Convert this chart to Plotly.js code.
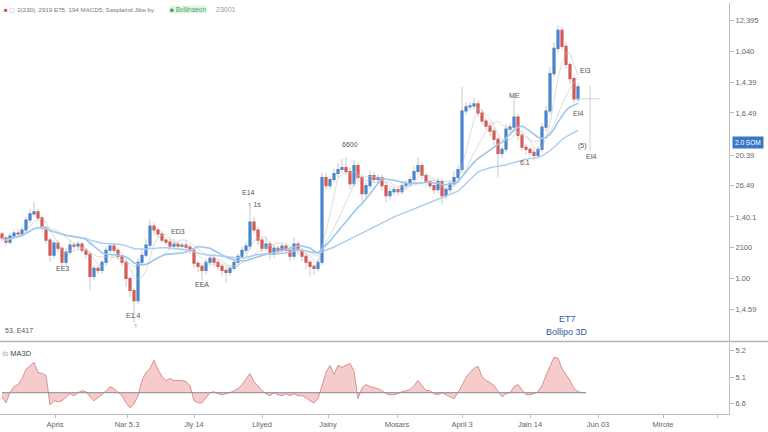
<!DOCTYPE html>
<html><head><meta charset="utf-8">
<script src="https://cdn.plot.ly/plotly-3.0.1.min.js"></script>
<style>html,body{margin:0;padding:0;background:#fff}#chart{width:768px;height:432px}</style>
</head><body><div id="chart"></div>
<script>
// ---- data ----
const firstOpen = 31.8;
const closes = [
 30.6,29.4,31.2,32.1,31.8,33.0,36.0,37.8,38.4,36.6,
 33.6,30.0,25.5,29.1,27.6,23.4,26.4,28.5,28.2,28.8,
 27.0,25.8,19.2,21.6,21.0,23.4,27.0,28.2,27.0,25.2,
 23.4,18.6,15.0,12.0,23.4,25.5,28.5,34.2,33.0,31.8,
 30.0,29.4,28.2,28.8,28.2,28.5,27.9,27.0,23.1,22.2,
 21.0,23.4,24.6,23.4,22.2,21.0,20.4,21.6,23.4,25.2,
 27.0,28.2,35.4,33.0,30.0,27.6,28.8,25.8,27.6,27.0,
 28.2,27.0,25.2,28.8,27.0,25.2,23.4,22.2,21.6,23.4,
 48.6,46.2,48.0,49.8,51.0,51.6,50.4,46.8,52.2,48.6,
 43.8,46.2,49.2,48.0,48.6,46.2,43.2,44.4,45.0,44.4,
 46.2,46.8,48.0,50.4,52.2,49.2,47.4,46.2,45.0,47.4,
 43.2,45.0,46.8,48.6,51.0,68.4,69.6,69.9,70.5,67.8,
 65.4,63.9,62.4,60.0,55.8,57.0,63.0,63.6,66.6,61.2,
 57.6,57.0,56.1,55.2,57.0,63.6,68.4,79.5,87.0,92.4,
 87.6,82.2,78.0,72.0,75.6];
const wickUp = [
 0.8,0.6,1.0,0.8,1.2,0.9,1.0,1.5,3.0,1.0,
 0.8,0.6,1.0,0.8,0.9,0.6,1.2,1.5,0.8,1.0,
 0.8,0.6,0.9,0.8,1.0,0.7,1.2,0.9,1.0,0.8,
 0.6,0.8,0.7,0.9,1.2,1.5,1.8,2.0,1.0,0.8,
 0.9,0.8,1.0,1.5,0.8,0.9,1.2,0.8,0.7,0.8,
 0.9,1.0,0.8,0.9,0.7,0.8,1.0,0.9,0.8,1.0,
 1.2,1.0,5.1,1.5,1.0,0.8,2.0,0.9,1.0,0.8,
 1.0,0.8,0.9,2.0,1.0,0.8,0.9,0.7,0.8,1.0,
 1.5,1.2,1.0,1.5,2.0,2.5,3.0,1.2,1.8,1.0,
 0.8,1.0,1.5,1.0,0.9,1.0,0.8,1.2,1.0,0.9,
 1.0,1.2,1.0,1.5,2.5,1.0,0.9,1.0,0.8,1.2,
 0.8,1.0,1.2,2.0,1.5,7.2,1.5,1.2,1.8,1.0,
 1.0,0.9,1.2,1.0,0.8,1.0,1.5,1.2,6.3,1.0,
 0.9,1.0,0.8,0.9,1.0,1.2,1.5,2.0,1.8,1.5,
 1.0,1.2,1.0,0.9,1.2];
const wickDn = [
 1.0,1.2,0.8,0.9,1.0,0.8,0.9,1.0,0.8,0.9,
 1.0,1.2,2.0,1.0,1.2,1.5,1.0,0.8,0.9,1.0,
 1.0,1.2,4.0,1.0,1.2,1.0,0.8,0.9,1.0,1.2,
 1.0,2.5,2.0,6.6,1.0,0.9,0.8,1.0,1.2,1.0,
 0.9,1.0,1.2,0.8,1.0,0.9,1.0,1.2,1.5,1.8,
 3.0,1.2,1.0,1.5,1.2,1.8,3.0,1.0,0.9,1.0,
 0.8,1.0,1.2,1.0,1.5,1.2,1.0,1.5,1.0,1.2,
 1.0,1.2,1.5,1.0,1.2,1.5,2.0,3.0,2.0,1.0,
 0.8,1.2,1.0,0.9,1.0,1.2,1.0,1.5,1.0,1.2,
 3.0,1.2,1.0,1.0,1.2,1.5,2.0,1.2,1.0,1.2,
 1.0,1.2,1.0,0.9,1.0,1.2,1.5,1.0,1.2,1.0,
 2.7,1.2,1.0,0.9,1.0,1.0,1.2,1.0,1.0,1.2,
 1.0,1.2,1.5,1.8,7.0,1.2,1.0,1.0,1.2,1.5,
 1.2,1.5,1.2,1.5,1.0,1.0,1.2,1.0,1.0,1.2,
 1.0,1.2,1.5,1.2,1.0];
const macdHist = [
 -0.4,-1.0,0,0.6,0.8,1.4,2.3,2.7,3.0,2.0,
 1.9,1.7,-1.2,-0.8,-0.9,-0.8,-0.4,-0.1,-0.3,0,
 0.2,0.1,-0.4,-0.8,-0.5,-0.2,0.2,0.6,0.4,0,
 -0.3,-1.0,-1.5,-1.1,-0.3,1.2,2.0,2.4,3.2,2.3,
 1.6,1.2,1.4,1.2,1.2,1.2,1.1,0.7,-0.8,-1.0,
 -1.0,-0.5,0,0.1,-0.1,-0.2,-0.1,0,0.2,0.4,
 0.8,1.4,1.9,1.1,0.6,0.2,-0.1,-0.3,0,-0.2,
 -0.3,-0.1,-0.3,-0.1,-0.3,-0.3,-0.5,-0.8,-1.0,-0.6,
 0.7,2.0,2.7,1.8,2.7,2.5,2.7,2.9,2.1,-0.6,
 0.5,0.8,0.6,0.5,0.4,0.2,-0.1,-0.2,-0.2,-0.1,
 0.1,0.2,0.3,0.7,1.2,0.7,0.2,0.2,-0.1,-0.2,
 0,-0.2,-0.4,-0.6,0,0.7,1.5,2.0,2.4,2.6,
 1.6,1.2,1.0,0.7,0.2,-0.4,-0.1,0,0.6,0.8,
 0.3,-0.2,-0.2,-0.1,0.1,0.7,1.7,2.7,3.5,3.4,
 2.4,1.8,1.2,0.4,0.1,0,0];
const xTickVals = [13.25,31.25,48,65,81.5,98.75,115,132,149,165.25,178.75];
const xTickText = ["Apris","Nar 5.3","Jly 14","Lllyed","Jainy","Mosars","April 3","Jain 14","Jun 03","Mirote",""];
const yTickVals = [95.4,86.1,76.8,67.8,55.2,46.2,36.9,27.9,18.6,9.3];
const yTickText = ["12,395","1,040","1,4.39","1,6.49","20.39","26.49","1,40.1","2100","1.00","1,4.59"];
const y2TickVals = [4.2,1.5,-1.1];
const y2TickText = ["5.2","5.1","6.6"];
const maPeriods = [5, 10, 16, 40];

// ---- derived ----
const idx = closes.map((_, i) => i);
const opens = [firstOpen].concat(closes.slice(0, -1));
const bodyHi = closes.map((c, i) => Math.max(c, opens[i]));
const bodyLo = closes.map((c, i) => Math.min(c, opens[i]));
const highs = bodyHi.map((v, i) => v + wickUp[i]);
const lows = bodyLo.map((v, i) => v - wickDn[i]);
function sma(arr, n) {
  return arr.map((_, i) => {
    const s = Math.max(0, i - n + 1); let sum = 0;
    for (let k = s; k <= i; k++) sum += arr[k];
    return sum / (i - s + 1);
  });
}
const histX = macdHist.map((_, i) => i);

const BLUE = '#4a86cf', RED = '#d85a55';
const maStyles = [
  {color: 'rgba(190,190,190,0.7)', width: 0.8},
  {color: 'rgba(200,200,200,0.8)', width: 0.8},
  {color: '#9cc6ea', width: 1.6},
  {color: '#a8cdee', width: 1.4}
];
const traces = [];
maPeriods.forEach((p, k) => {
  traces.push({type: 'scatter', mode: 'lines', x: idx, y: sma(closes, p),
    line: maStyles[k], hoverinfo: 'skip', showlegend: false, xaxis: 'x', yaxis: 'y'});
});
traces.push({type: 'candlestick', x: idx, open: opens, high: highs, low: lows, close: closes,
  increasing: {line: {color: '#c9c9c9', width: 1}, fillcolor: '#c9c9c9'},
  decreasing: {line: {color: '#c9c9c9', width: 1}, fillcolor: '#c9c9c9'},
  whiskerwidth: 0, hoverinfo: 'skip', showlegend: false, xaxis: 'x', yaxis: 'y'});
traces.push({type: 'candlestick', x: idx, open: opens, high: bodyHi, low: bodyLo, close: closes,
  increasing: {line: {color: BLUE, width: 1.1}, fillcolor: BLUE},
  decreasing: {line: {color: RED, width: 1.1}, fillcolor: RED},
  whiskerwidth: 0, hoverinfo: 'skip', showlegend: false, xaxis: 'x', yaxis: 'y'});
traces.push({type: 'scatter', mode: 'lines', x: histX, y: macdHist, fill: 'tozeroy',
  fillcolor: 'rgba(232,140,140,0.45)', line: {color: 'rgba(205,120,120,0.85)', width: 0.9},
  hoverinfo: 'skip', showlegend: false, xaxis: 'x', yaxis: 'y2'});
traces.push({type: 'scatter', mode: 'lines', x: [histX[0], histX[histX.length - 1]], y: [0, 0],
  line: {color: '#8a8a8a', width: 1}, hoverinfo: 'skip', showlegend: false, xaxis: 'x', yaxis: 'y2'});

const pH = 411, bot = 414;
const py = v => (bot - v) / pH; // paper y from screen px (layout helper for text)
const px = v => v / 729;
const FAM = 'Liberation Sans, Arial, sans-serif';
const txt = {family: FAM, size: 7, color: '#555'};
function ann(text, x, y, extra) {
  return Object.assign({text, x, y, xref: 'x', yref: 'y', showarrow: false, font: txt}, extra || {});
}
const annotations = [
  {text: '<span style="color:#d9534f">■</span> <span style="color:#7aa6dc">▢</span> 2(230), 2919 E75, 194 MACD5, Sasplaind Jibe by',
   xref: 'paper', yref: 'paper', x: px(2), y: py(10), xanchor: 'left', yanchor: 'middle', showarrow: false,
   font: {family: FAM, size: 6.2, color: '#777'}},
  {text: '<span style="color:#3aa45a">■</span> Bollinaeon', xref: 'paper', yref: 'paper', x: px(169), y: py(10),
   xanchor: 'left', yanchor: 'middle', showarrow: false, bgcolor: '#e2f4e6', borderpad: 0,
   font: {family: FAM, size: 6.5, color: '#4aa565'}},
  {text: '23001', xref: 'paper', yref: 'paper', x: px(214), y: py(10), xanchor: 'left', yanchor: 'middle',
   showarrow: false, font: {family: FAM, size: 7, color: '#999'}},
  {text: '53. E417', xref: 'paper', yref: 'paper', x: px(3), y: py(330), xanchor: 'left', yanchor: 'middle',
   showarrow: false, font: txt},
  {text: '<span style="color:#aaa">ıb</span> MA3D', xref: 'paper', yref: 'paper', x: px(0), y: py(353), xanchor: 'left',
   yanchor: 'middle', showarrow: false, font: {family: FAM, size: 7.5, color: '#444'}},
  {text: '2.0 SOM', xref: 'paper', yref: 'y', x: 1.004, y: 59.1, xanchor: 'left', yanchor: 'middle', showarrow: false,
   bgcolor: '#3b78c6', borderpad: 2, font: {family: FAM, size: 6.5, color: '#fff'}},
  ann('EE3', 15, 21.6), ann('ED3', 44, 32.7), ann('EEA', 50, 16.8),
  ann('E14', 61.5, 44.1), ann('↑ 1s', 63.2, 40.5), ann('E1.4', 32.8, 7.5), ann('↑', 33.5, 4.5),
  ann('6600', 87, 58.5), ann('ME', 128, 72.9), ann('6.1', 130.8, 53.1),
  ann('EI3', 145.8, 80.4), ann('EI4', 144, 67.5), ann('(5)', 145, 57.9), ann('EI4', 147.3, 54.9),
  ann('ET7', 141.25, 6.6, {font: {family: FAM, size: 9, color: '#2f5e9e'}}),
  ann('Bollipo 3D', 141.25, 2.7, {font: {family: FAM, size: 9, color: '#2f5e9e'}})
];
const shapes = [
  {type: 'line', xref: 'paper', yref: 'paper', x0: 0, x1: 1.06, y0: py(341.5), y1: py(341.5), line: {color: '#b5b5b5', width: 1.4}},
  {type: 'line', xref: 'x', yref: 'y', x0: 147, x1: 147, y0: 56.5, y1: 76, line: {color: '#c8c8c8', width: 0.8}},
  {type: 'line', xref: 'x', yref: 'y', x0: 143.5, x1: 149.5, y0: 72, y1: 72, line: {color: '#c8c8c8', width: 0.8}}
];
const axisFont = {family: FAM, size: 7.5, color: '#666'};
const layout = {
  width: 768, height: 432, margin: {l: 0, r: 39, t: 3, b: 18},
  paper_bgcolor: '#fff', plot_bgcolor: '#fff', showlegend: false,
  xaxis: {anchor: 'y2', range: [-0.5, 181.75], tickmode: 'array', tickvals: xTickVals, ticktext: xTickText,
    showgrid: false, zeroline: false, showline: true, linecolor: '#bdbdbd', linewidth: 1,
    ticks: 'outside', ticklen: 3, tickcolor: '#bdbdbd', tickfont: axisFont, rangeslider: {visible: false}},
  yaxis: {domain: [py(341), 1], side: 'right', range: [0, 100.5], tickmode: 'array', tickvals: yTickVals,
    ticktext: yTickText, showgrid: false, zeroline: false, showline: true, linecolor: '#bdbdbd', linewidth: 1,
    ticks: 'outside', ticklen: 4, tickcolor: '#bdbdbd', tickfont: axisFont},
  yaxis2: {domain: [0, py(343)], side: 'right', range: [-2.1, 4.9], tickmode: 'array', tickvals: y2TickVals,
    ticktext: y2TickText, showgrid: false, zeroline: false, showline: true, linecolor: '#bdbdbd', linewidth: 1,
    ticks: 'outside', ticklen: 4, tickcolor: '#bdbdbd', tickfont: axisFont},
  annotations, shapes
};
Plotly.newPlot('chart', traces, layout, {displayModeBar: false, staticPlot: true});
</script></body></html>
